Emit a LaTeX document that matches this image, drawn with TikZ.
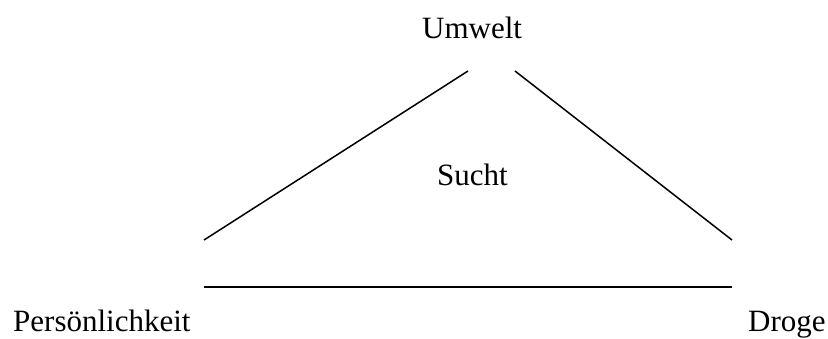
\documentclass[tikz,border=0pt]{standalone}
\usepackage{fontspec}
\setmainfont{Liberation Serif}
\begin{document}
\begin{tikzpicture}[x=1pt,y=-1pt,
  lbl/.style={inner sep=0pt,anchor=base west,font=\fontsize{31}{38}\selectfont},
  edge/.style={line width=1.5pt}]
\useasboundingbox (0,0) rectangle (828,338);
\node[lbl] (umwelt) at (422,38) {Umwelt};
\node[lbl] (sucht) at (437,185) {Sucht};
\node[lbl] (pers) at (13,331) {Persönlichkeit};
\node[lbl] (droge) at (748,331) {Droge};
\coordinate (l1) at (204,240);
\coordinate (l2) at (468,71);
\coordinate (r1) at (515,71);
\coordinate (r2) at (732,240);
\coordinate (b1) at (204,287);
\coordinate (b2) at (732,287);
\draw[edge] (l1) -- (l2);
\draw[edge] (r1) -- (r2);
\draw[edge] (b1) -- (b2);
\end{tikzpicture}
\end{document}
